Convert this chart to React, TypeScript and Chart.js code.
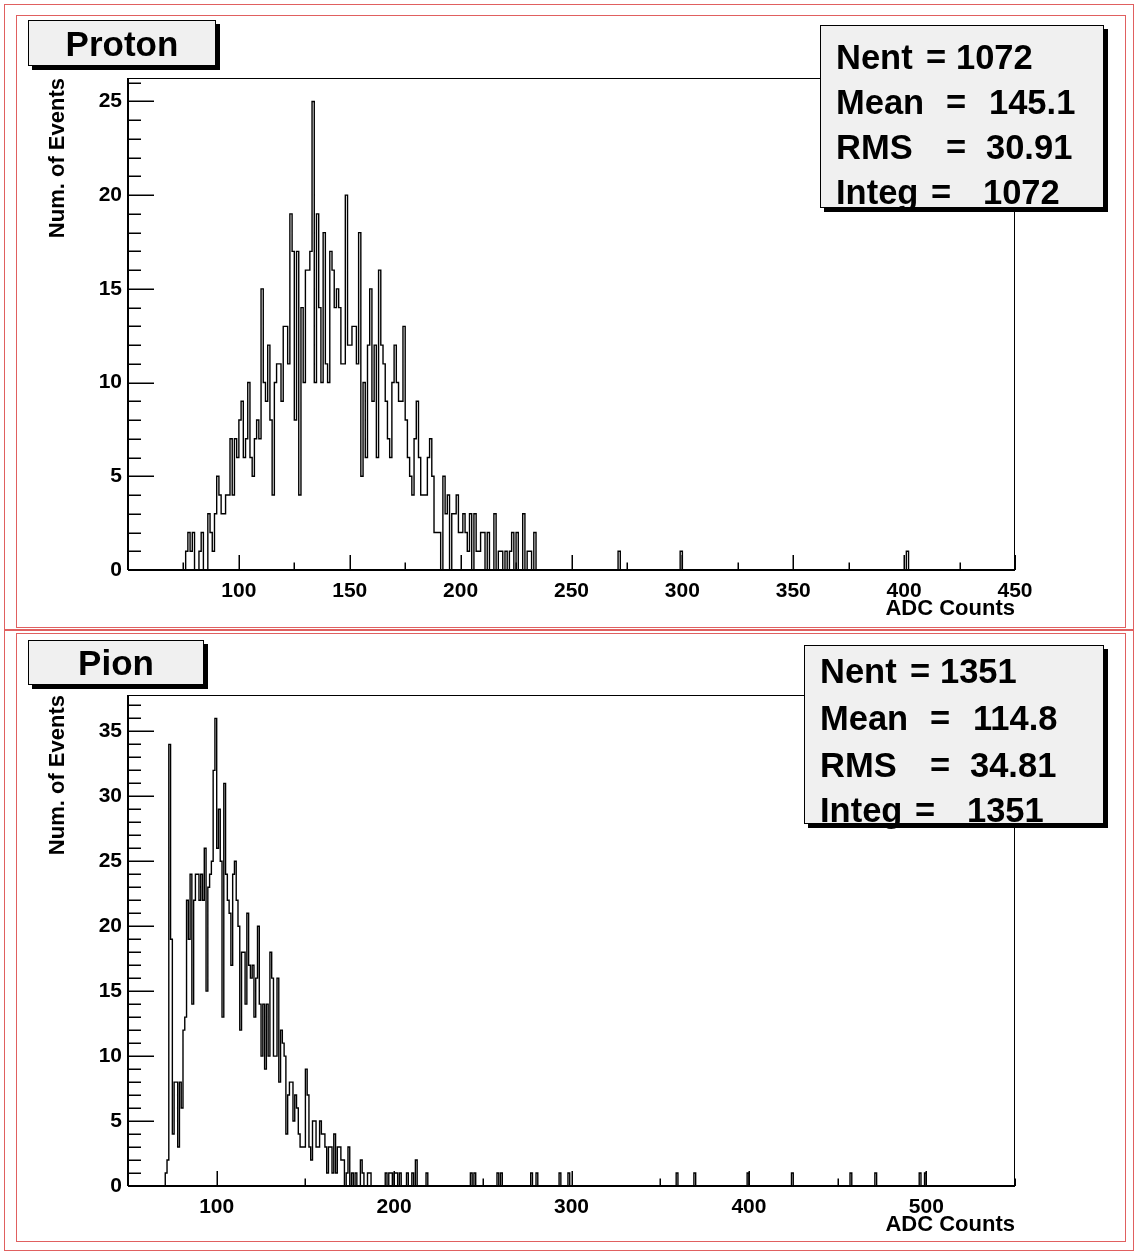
import React, { useEffect, useRef } from 'react';
import { Chart, registerables } from 'chart.js';

Chart.register(...registerables);

// ---------------- Proton histogram (1 ADC count per bin) ----------------
const protonRange = [50, 450];
const protonStartBin = 77;
const protonCounts = [
  1, 2, 1, 2, 0, 0, 1, 2, 0, 0, // 77-86
  3, 2, 1, 3, 5, 4, 3, 3, 4, 4, // 87-96
  7, 4, 7, 6, 8, 9, 6, 7, 10, 6, // 97-106
  5, 7, 8, 7, 15, 10, 9, 12, 8, 4, // 107-116
  10, 11, 11, 9, 13, 13, 11, 19, 17, 8, // 117-126
  17, 4, 14, 10, 16, 16, 17, 25, 10, 19, // 127-136
  14, 10, 18, 11, 10, 17, 16, 14, 15, 14, // 137-146
  11, 11, 20, 12, 12, 13, 13, 11, 18, 5, // 147-156
  10, 6, 12, 15, 9, 12, 6, 16, 12, 11, // 157-166
  9, 7, 6, 10, 12, 10, 9, 9, 13, 8, // 167-176
  6, 5, 4, 7, 9, 6, 4, 4, 4, 6, // 177-186
  7, 5, 2, 2, 2, 0, 5, 3, 4, 0, // 187-196
  3, 3, 4, 2, 2, 3, 2, 1, 3, 0, // 197-206
  3, 1, 1, 2, 2, 0, 2, 0, 0, 3, // 207-216
  0, 1, 1, 0, 1, 0, 1, 2, 0, 2, // 217-226
  0, 0, 3, 0, 1, 1, 0, 2, // 227-234
];
const protonOutlierBins = [272, 300, 402];
const protonOutlierCounts = [1, 1, 1];
const protonXLabels = [100, 150, 200, 250, 300, 350, 400, 450];
const protonXMajorTicks = [50, 100, 150, 200, 250, 300, 350, 400, 450];
const protonXMinorTicks = [75, 125, 175, 225, 275, 325, 375, 425];
const protonYLabels = [0, 5, 10, 15, 20, 25];
const protonYMax = 26.25;
const protonStatValues = ['1072', '145.1', '30.91', '1072'];

// ---------------- Pion histogram (1 ADC count per bin) ----------------
const pionRange = [50, 550];
const pionStartBin = 72;
const pionCounts = [
  1, 2, 34, 19, 4, 8, 8, 3, 8, 6, // 72-81
  12, 13, 22, 19, 24, 14, 22, 24, 24, 22, // 82-91
  24, 22, 26, 15, 23, 24, 25, 32, 36, 26, // 92-101
  29, 25, 13, 31, 24, 22, 21, 17, 24, 25, // 102-111
  22, 20, 12, 18, 18, 14, 21, 17, 16, 17, // 112-121
  13, 16, 20, 14, 10, 14, 9, 14, 10, 18, // 122-131
  16, 10, 10, 16, 8, 12, 11, 10, 4, 7, // 132-141
  8, 8, 5, 7, 6, 4, 3, 3, 3, 9, // 142-151
  7, 3, 2, 5, 5, 3, 3, 5, 4, 4, // 152-161
  3, 1, 3, 3, 1, 4, 1, 3, 3, 2, // 162-171
  2, 0, 1, 3, 0, 1, 0, 1, 0, 0, // 172-181
  2, 1, 0, 0, 1, 1, 0, 0, 0, 0, // 182-191
  0, 0, 0, 0, 1, 0, 1, 1, 0, 1, // 192-201
  1, 0, 1, 0, 0, 0, 1, 0, 0, 1, // 202-211
  0, 2, 0, 0, 0, 0, 0, 1, // 212-219
];
const pionOutlierBins = [244, 246, 259, 261, 278, 281, 294, 299, 360, 370, 400, 425, 458, 472, 497, 500];
const pionOutlierCounts = [1, 1, 1, 1, 1, 1, 1, 1, 1, 1, 1, 1, 1, 1, 1, 1];
const pionXLabels = [100, 200, 300, 400, 500];
const pionXMajorTicks = [100, 200, 300, 400, 500];
const pionXMinorTicks = [50, 150, 250, 350, 450, 550];
const pionYLabels = [0, 5, 10, 15, 20, 25, 30, 35];
const pionYMax = 37.8;
const pionStatValues = ['1351', '114.8', '34.81', '1351'];

const statLabels = ['Nent', 'Mean', 'RMS', 'Integ'];

const FONT = "'Liberation Sans', Arial, Helvetica, sans-serif";

function buildHist(range: number[], start: number, counts: number[], extraBins: number[], extraCounts: number[]) {
  const pts: { x: number; y: number }[] = [];
  for (let b = range[0]; b < range[1]; b++) {
    let v = 0;
    const i = b - start;
    if (i >= 0 && i < counts.length) v = counts[i];
    const k = extraBins.indexOf(b);
    if (k >= 0) v += extraCounts[k];
    pts.push({ x: b, y: v });
  }
  pts.push({ x: range[1], y: 0 });
  return pts;
}

const rootFramePlugin = {
  id: 'rootFrame',
  afterDatasetsDraw(chart: any, _args: any, opts: any) {
    const { ctx, chartArea: a } = chart;
    const x = chart.scales.x;
    const y = chart.scales.y;
    ctx.save();
    ctx.strokeStyle = '#000';
    ctx.lineWidth = 1;
    ctx.strokeRect(a.left + 0.5, a.top + 0.5, a.right - a.left - 1, a.bottom - a.top);
    ctx.lineWidth = 2;
    ctx.beginPath();
    ctx.moveTo(a.left, a.bottom);
    ctx.lineTo(a.right, a.bottom);
    ctx.moveTo(a.left, a.top);
    ctx.lineTo(a.left, a.bottom);
    ctx.stroke();
    ctx.lineWidth = 1.5;
    ctx.beginPath();
    opts.xMajor.forEach((v: number) => {
      const px = Math.round(x.getPixelForValue(v)) + 0.25;
      ctx.moveTo(px, a.bottom);
      ctx.lineTo(px, a.bottom - 15);
    });
    opts.xMinor.forEach((v: number) => {
      const px = Math.round(x.getPixelForValue(v)) + 0.25;
      ctx.moveTo(px, a.bottom);
      ctx.lineTo(px, a.bottom - 7.5);
    });
    for (let v = 0; v <= opts.yMax; v += 1) {
      const py = Math.round(y.getPixelForValue(v)) + 0.25;
      const len = v % 5 === 0 ? 26 : 13;
      ctx.moveTo(a.left, py);
      ctx.lineTo(a.left + len, py);
    }
    ctx.stroke();
    ctx.restore();
  },
};

type Panel = {
  range: number[];
  start: number;
  counts: number[];
  extraBins: number[];
  extraCounts: number[];
  xLabels: number[];
  xMajor: number[];
  xMinor: number[];
  yLabels: number[];
  yMax: number;
  padTop: number;
  padBottom: number;
};

function makeConfig(p: Panel): any {
  const font = { family: FONT, size: 21, weight: 'bold' as const };
  const titleFont = { family: FONT, size: 22, weight: 'bold' as const };
  return {
    type: 'line',
    data: {
      datasets: [
        {
          data: buildHist(p.range, p.start, p.counts, p.extraBins, p.extraCounts),
          stepped: 'after',
          borderColor: '#000',
          borderWidth: 1.4,
          pointRadius: 0,
          fill: false,
        },
      ],
    },
    options: {
      animation: false,
      responsive: false,
      events: [],
      layout: { padding: { left: 28, right: 120, top: p.padTop, bottom: p.padBottom } },
      plugins: {
        legend: { display: false },
        tooltip: { enabled: false },
        rootFrame: { xMajor: p.xMajor, xMinor: p.xMinor, yMax: p.yMax },
      },
      scales: {
        x: {
          type: 'linear',
          min: p.range[0],
          max: p.range[1],
          grid: { display: false, drawTicks: false, tickLength: 0 },
          border: { display: false },
          afterBuildTicks: (s: any) => {
            s.ticks = p.xLabels.map((v) => ({ value: v }));
          },
          afterFit: (s: any) => {
            s.height = 52;
          },
          ticks: { padding: 9, color: '#000', font, maxRotation: 0, autoSkip: false },
          title: {
            display: true,
            text: 'ADC Counts',
            align: 'end',
            color: '#000',
            font: titleFont,
            padding: { top: 0, bottom: 0 },
          },
        },
        y: {
          type: 'linear',
          min: 0,
          max: p.yMax,
          grid: { display: false, drawTicks: false, tickLength: 0 },
          border: { display: false },
          afterBuildTicks: (s: any) => {
            s.ticks = p.yLabels.map((v) => ({ value: v }));
          },
          afterFit: (s: any) => {
            s.width = 100;
          },
          ticks: { padding: 6, color: '#000', font, autoSkip: false },
          title: {
            display: true,
            text: 'Num. of Events',
            align: 'end',
            color: '#000',
            font: titleFont,
            padding: { top: 17, bottom: 0 },
          },
        },
      },
    },
    plugins: [rootFramePlugin],
  };
}

function HistCanvas({ panel, top, height }: { panel: Panel; top: number; height: number }) {
  const ref = useRef<HTMLCanvasElement | null>(null);
  useEffect(() => {
    if (!ref.current) return;
    const chart = new Chart(ref.current, makeConfig(panel));
    return () => chart.destroy();
  }, [panel]);
  return (
    <canvas
      ref={ref}
      width={1135}
      height={height}
      style={{ position: 'absolute', left: 0, top, width: 1135, height }}
    />
  );
}

const boxFont: React.CSSProperties = {
  fontFamily: FONT,
  fontWeight: 'bold',
  color: '#000',
};

function TitleBox({ text, left, top, width, height }: { text: string; left: number; top: number; width: number; height: number }) {
  return (
    <div
      style={{
        ...boxFont,
        position: 'absolute',
        left,
        top,
        width,
        height,
        boxSizing: 'border-box',
        border: '1px solid #000',
        background: '#f0f0f0',
        boxShadow: '4px 4px 0 #000',
        display: 'flex',
        alignItems: 'center',
        justifyContent: 'center',
        fontSize: 35,
        lineHeight: '35px',
        zIndex: 3,
      }}
    >
      {text}
    </div>
  );
}

// horizontal offsets (px from text start) of the "=" sign and of the value, per stats line
const statEqOffsets = [90, 110, 110, 95];
const statValueOffsets = [120, 153, 150, 147];

function StatsBox({ values, left, top, width, height, textLeft, baselines }: { values: string[]; left: number; top: number; width: number; height: number; textLeft: number; baselines: number[] }) {
  const fs = 34.5;
  const asc = 0.905 * fs + (fs - 1.117 * fs) / 2;
  return (
    <>
      <div
        style={{
          position: 'absolute',
          left,
          top,
          width,
          height,
          boxSizing: 'border-box',
          border: '1px solid #000',
          background: '#f0f0f0',
          boxShadow: '4px 4px 0 #000',
          zIndex: 3,
        }}
      />
      {statLabels.map((lab, i) => {
        const common: React.CSSProperties = {
          ...boxFont,
          position: 'absolute',
          top: baselines[i] - asc,
          fontSize: fs,
          lineHeight: `${fs}px`,
          whiteSpace: 'pre',
          zIndex: 4,
        };
        return (
          <React.Fragment key={i}>
            <div style={{ ...common, left: textLeft }}>{lab}</div>
            <div style={{ ...common, left: textLeft + statEqOffsets[i] }}>=</div>
            <div style={{ ...common, left: textLeft + statValueOffsets[i] }}>{values[i]}</div>
          </React.Fragment>
        );
      })}
    </>
  );
}

function RedRect({ left, top, right, bottom, color }: { left: number; top: number; right: number; bottom: number; color: string }) {
  return (
    <div
      style={{
        position: 'absolute',
        left,
        top,
        width: right - left,
        height: bottom - top,
        boxSizing: 'border-box',
        border: `1px solid ${color}`,
        zIndex: 0,
      }}
    />
  );
}

const protonPanel: Panel = {
  range: protonRange,
  start: protonStartBin,
  counts: protonCounts,
  extraBins: protonOutlierBins,
  extraCounts: protonOutlierCounts,
  xLabels: protonXLabels,
  xMajor: protonXMajorTicks,
  xMinor: protonXMinorTicks,
  yLabels: protonYLabels,
  yMax: protonYMax,
  padTop: 78,
  padBottom: 8,
};

const pionPanel: Panel = {
  range: pionRange,
  start: pionStartBin,
  counts: pionCounts,
  extraBins: pionOutlierBins,
  extraCounts: pionOutlierCounts,
  xLabels: pionXLabels,
  xMajor: pionXMajorTicks,
  xMinor: pionXMinorTicks,
  yLabels: pionYLabels,
  yMax: pionYMax,
  padTop: 65,
  padBottom: 16,
};

export default function App() {
  return (
    <div style={{ position: 'absolute', left: 0, top: 0, width: 1135, height: 1254, background: '#fff', overflow: 'hidden' }}>
      <RedRect left={4} top={4} right={1134} bottom={630} color="#e06060" />
      <RedRect left={16} top={15} right={1126} bottom={628} color="#e06060" />
      <RedRect left={4} top={630} right={1134} bottom={1251} color="#e06060" />
      <RedRect left={16} top={633} right={1126} bottom={1242} color="#e06060" />
      <HistCanvas panel={protonPanel} top={0} height={630} />
      <HistCanvas panel={pionPanel} top={630} height={624} />
      <TitleBox text="Proton" left={28} top={20} width={188} height={46} />
      <TitleBox text="Pion" left={28} top={640} width={176} height={45} />
      <StatsBox values={protonStatValues} left={820} top={25} width={284} height={183} textLeft={836} baselines={[69, 114, 159, 204]} />
      <StatsBox values={pionStatValues} left={804} top={645} width={300} height={179} textLeft={820} baselines={[683, 730, 777, 822]} />
    </div>
  );
}
